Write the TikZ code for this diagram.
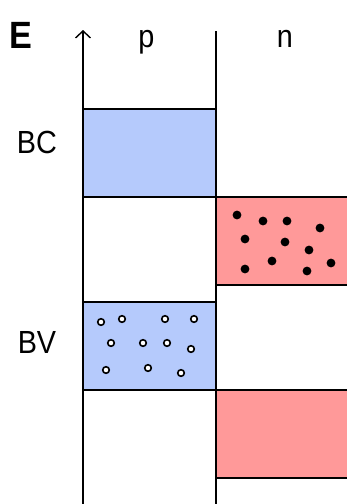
\documentclass[tikz,border=0pt]{standalone}
\usepackage{fontspec}
\setmainfont[FakeStretch=0.9]{Liberation Sans}
\usetikzlibrary{arrows.meta}
\definecolor{pblue}{RGB}{181,202,252}
\definecolor{nred}{RGB}{255,153,153}

\begin{document}
\begin{tikzpicture}[x=1pt, y=-1pt,
  band/.style={draw, line width=2.1pt, minimum width=133, minimum height=88,
               inner sep=0pt, outer sep=0pt},
  pband/.style={band, fill=pblue},
  nband/.style={band, fill=nred, minimum width=136},
  wall/.style={line width=2.1pt},
  lbl/.style={font=\fontsize{32}{34}\selectfont, inner sep=0pt, anchor=base},
  elec/.style={fill=black},
  hole/.style={draw=black, fill=white, line width=1.6pt},
]
  \clip (0,0) rectangle (347,504);

  % bands
  \node[pband] (pBC) at (149.5,153) {};
  \node[pband] (pBV) at (149.5,346) {};
  \node[nband] (nBC) at (284,241) {};
  \node[nband] (nBV) at (284,434) {};

  % axis and junction
  \coordinate (axbot) at (83,506);
  \coordinate (axtop) at (83,30);
  \coordinate (jbot) at (216,506);
  \coordinate (jtop) at (216,31);
  \draw[wall, -{Straight Barb[length=7pt, width=15pt, line width=1.4pt]}] (axbot) -- (axtop);
  \draw[wall] (jbot) -- (jtop);

  % labels
  \node[lbl, font=\bfseries\fontsize{38}{40}\selectfont] (E) at (21,48) {E};
  \node[lbl] (p) at (146.5,47) {p};
  \node[lbl] (n) at (285,47) {n};
  \node[lbl] (BC) at (37,153) {BC};
  \node[lbl] (BV) at (37,353) {BV};

  % electrons in n conduction band
  \foreach \x/\y in {237/215, 263/221, 287/221, 320/228, 245/239, 285/242,
                     309/250, 331/263, 272/261, 245/269, 307/271}
    \fill[elec] (\x,\y) circle (4.4);

  % holes in p valence band
  \foreach \x/\y in {101/322, 122/319, 165/319, 194/319, 111/343, 143/343,
                     167/343, 191/349, 106/370, 148/368, 181/373}
    \draw[hole] (\x,\y) circle (3.3);
\end{tikzpicture}
\end{document}
